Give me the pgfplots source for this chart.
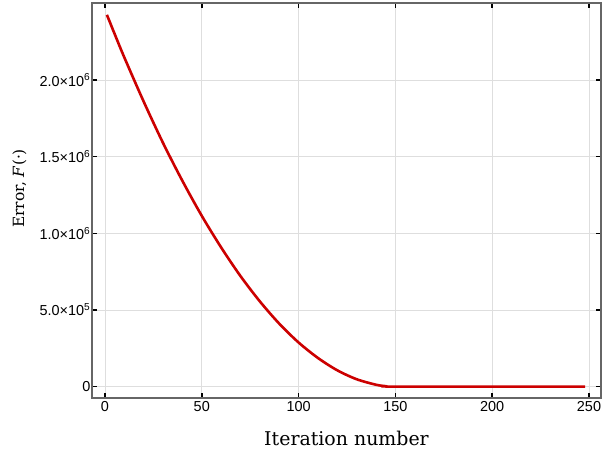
\documentclass[border=0pt]{standalone}
\usepackage{pgfplots}
\pgfplotsset{compat=1.18}
\usepackage{fontspec}
\setsansfont{Liberation Sans}
\newfontfamily\labelfont{DejaVu Serif}
\definecolor{curvered}{RGB}{204,0,0}
\begin{document}
\begin{tikzpicture}
\begin{axis}[
  name=ax,
  scale only axis, width=509bp, height=395bp,
  xmin=-6.7, xmax=256.2, ymin=-74000, ymax=2502000,
  xtick={0,50,100,150,200,250},
  xticklabels={0,50,100,150,200,250},
  ytick={0,500000,1000000,1500000,2000000},
  yticklabels={0,5.0×10\textsuperscript{5},1.0×10\textsuperscript{6},1.5×10\textsuperscript{6},2.0×10\textsuperscript{6}},
  scaled y ticks=false,
  /pgf/number format/assume math mode=true,
  ticklabel style={font=\fontsize{14.5}{17}\sffamily},
  yticklabel style={inner sep=1.5bp},
  tick align=inside,
  major tick length=5bp,
  tick style={black, line width=1.6bp},
  axis line style={black!60, line width=1.3bp},
  grid=major,
  grid style={black!13, line width=0.7bp},
  xlabel={Iteration number},
  ylabel={Error, \textit{F}(·)},
  xlabel style={font=\fontsize{19}{22}\labelfont, yshift=-13bp},
  ylabel style={font=\fontsize{15.5}{18}\labelfont, yshift=8bp, xshift=12bp},
]
\addplot[curvered, line width=2.6bp, smooth, tension=0.5] coordinates {
  (1,2425000) (5,2300000) (10,2147000) (20,1859000) (30,1589000)
  (40,1342000) (50,1114000) (60,908000) (70,721000) (80,556000)
  (90,411000) (100,288000) (110,187000) (120,106500) (130,48300)
  (140,12500) (145,3200) (150,0) (200,0) (248,0)
};
\end{axis}
\pgfresetboundingbox
\path ([shift={(-92bp,-60bp)}]ax.south west) rectangle ([shift={(2bp,3bp)}]ax.north east);
\end{tikzpicture}
\end{document}
